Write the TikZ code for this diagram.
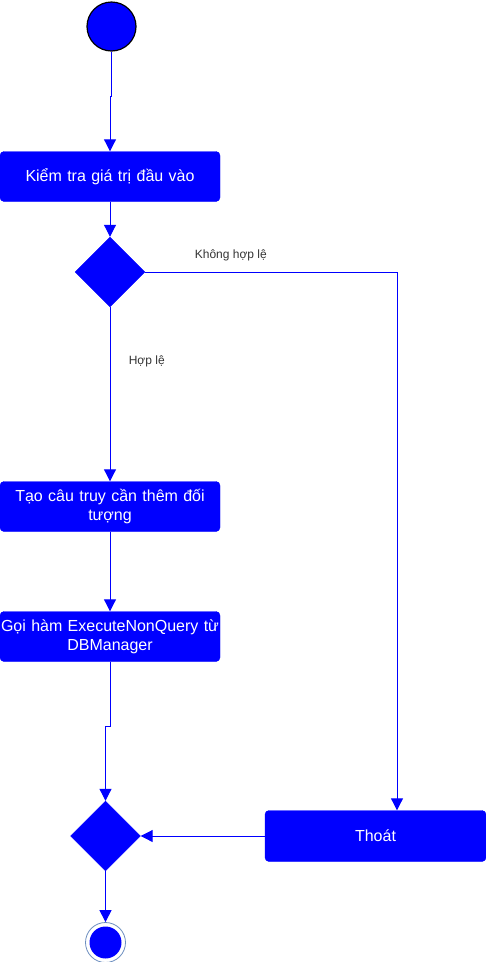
\documentclass[tikz,border=0pt]{standalone}
\usepackage{fontspec}
\setmainfont{Liberation Sans}
\usetikzlibrary{shapes.geometric,arrows.meta}
\definecolor{umlblue}{HTML}{0000FF}
\definecolor{guardgray}{HTML}{333333}
\definecolor{ringgray}{HTML}{6C8EBF}
\begin{document}
\begin{tikzpicture}[
  startdot/.style={circle, draw=black, line width=1.2pt, fill=umlblue, minimum size=49pt, inner sep=0pt},
  enddot/.style={circle, draw=ringgray, line width=0.8pt, minimum size=40pt, inner sep=0pt,
    path picture={\fill[umlblue] (path picture bounding box.center) circle (16pt);}},
  action/.style={rectangle, rounded corners=4pt, draw=umlblue, fill=umlblue, text=white, minimum width=220pt, minimum height=50pt, text width=218pt, inner sep=1pt, align=center, font=\fontsize{16pt}{19pt}\selectfont},
  branch/.style={diamond, draw=umlblue, fill=umlblue, minimum width=70pt, minimum height=70pt, inner sep=0pt},
  guard/.style={text=guardgray, font=\fontsize{12pt}{14pt}\selectfont},
  flow/.style={draw=umlblue, line width=1pt, -{Triangle[width=12pt,length=12pt]}},
  node distance=95pt
]
\useasboundingbox (0,0) rectangle (486pt,-962pt);

% Start
\node[startdot] (init) at (111.5pt,-26.5pt) {};
\node[action, below of=init, node distance=150pt, xshift=-1.5pt] (check) {Kiểm tra giá trị đầu vào};
\node[branch, below of=check, node distance=95.5pt] (valid) {};

% Valid branch
\node[action, below of=valid, node distance=234.5pt] (query) {Tạo câu truy cần thêm đối\\tượng};
\node[action, below of=query, node distance=130pt] (exec) {Gọi hàm ExecuteNonQuery từ\\DBManager};

% Merge and exit
\node[branch, below of=exec, node distance=199.5pt, xshift=-4.5pt] (merge) {};
\node[action, right of=merge, node distance=270pt, minimum width=221pt, minimum height=51pt] (exit) {Thoát};
\node[enddot, below of=merge, node distance=106.5pt] (final) {};

% Connections
\draw[flow] (init.south) -- ++(0,-45pt) -| (check.north);
\draw[flow] (check) -- (valid);
\draw[flow] (valid) -- node[guard, pos=0.31, right=15pt] {Hợp lệ} (query);
\draw[flow] (valid.east) -| node[guard, pos=0.17, above=7pt] {Không hợp lệ} ([xshift=21.5pt]exit.north);
\draw[flow] (query) -- (exec);
\draw[flow] (exec.south) -- ++(0,-64.5pt) -| (merge.north);
\draw[flow] (exit) -- (merge);
\draw[flow] (merge) -- (final);
\end{tikzpicture}
\end{document}
